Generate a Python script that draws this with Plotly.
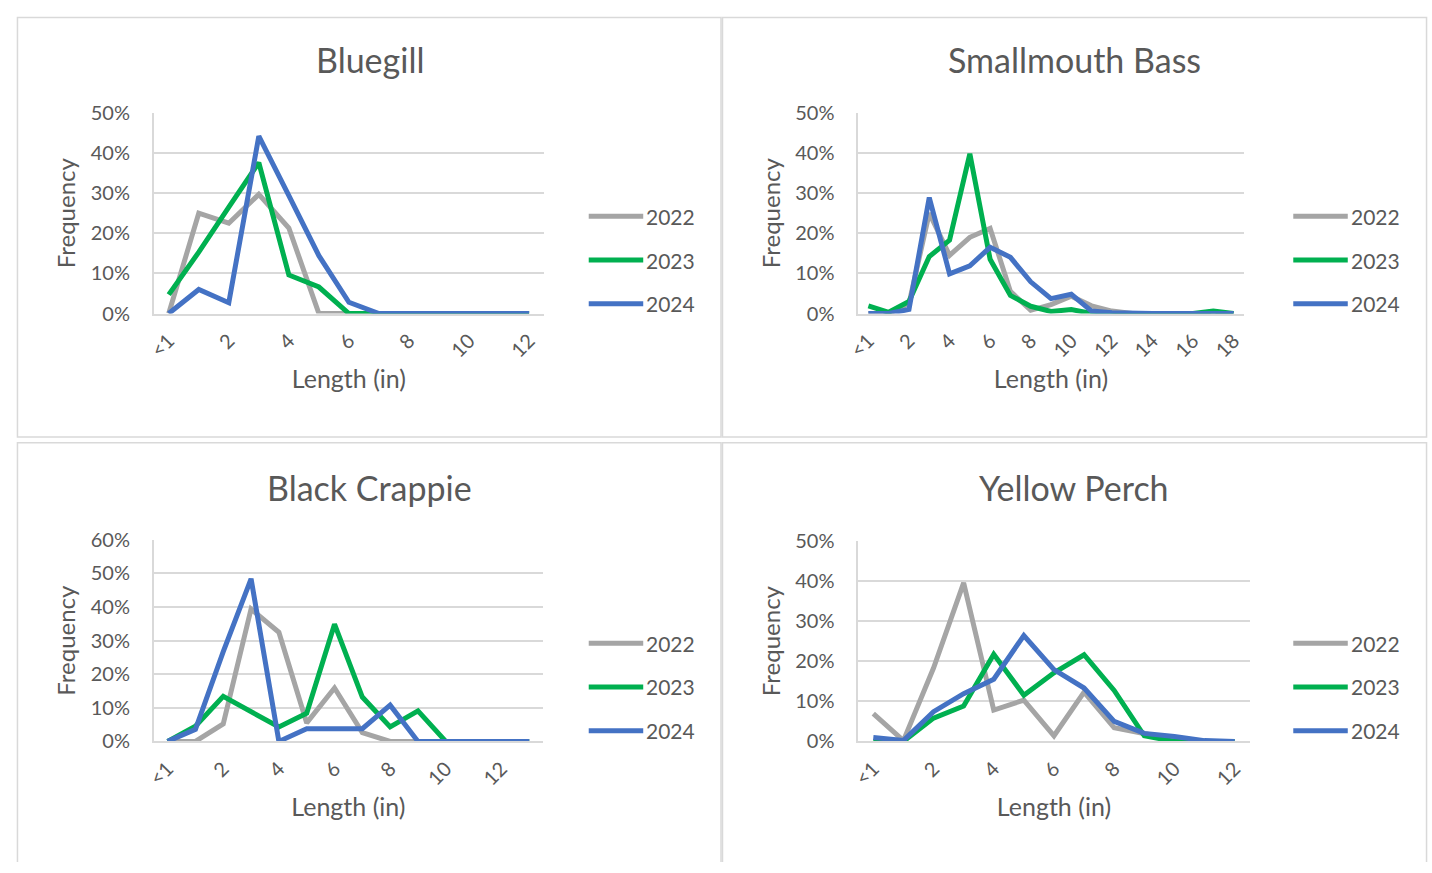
import plotly.graph_objects as go

# reference page geometry, in pixels of the 1432x873 page
W, H = 1432, 873

years = ["2022", "2023", "2024"]
colors = ["#A5A5A5", "#00B050", "#4472C4"]

# Bluegill
bg_cats = ["<1"] + [str(i) for i in range(1, 13)]
bg_2022 = [0, 25, 22.5, 29.7, 21.3, 0, 0, 0, 0, 0, 0, 0, 0]
bg_2023 = [4.7, 15.3, 26.5, 37.6, 9.6, 6.6, 0, 0, 0, 0, 0, 0, 0]
bg_2024 = [0, 6, 2.7, 44.2, 29.4, 14.4, 2.8, 0, 0, 0, 0, 0, 0]

# Smallmouth Bass
sm_cats = ["<1"] + [str(i) for i in range(1, 19)]
sm_2022 = [0, 0, 2.5, 25, 14.5, 19, 21.2, 5.5, 0.8, 2.2, 4.3, 1.9, 0.6, 0, 0, 0, 0, 0, 0]
sm_2023 = [1.9, 0.3, 3, 14.2, 18.3, 39.8, 13.5, 4.5, 1.8, 0.5, 1, 0, 0, 0, 0, 0, 0, 0.6, 0]
sm_2024 = [0, 0, 1, 28.9, 9.9, 11.9, 16.5, 14, 7.9, 3.7, 4.8, 0.6, 0.2, 0, 0, 0, 0, 0, 0]

# Black Crappie
bc_cats = ["<1"] + [str(i) for i in range(1, 14)]
bc_2022 = [0, 0, 5.2, 39.4, 32.5, 5.5, 15.9, 2.6, 0, 0, 0, 0, 0, 0]
bc_2023 = [0, 4.5, 13.4, 8.9, 4.3, 8.4, 34.9, 13.2, 4.3, 9.1, 0, 0, 0, 0]
bc_2024 = [0, 3.6, 26.7, 48.4, 0, 3.8, 3.8, 3.8, 10.8, 0, 0, 0, 0, 0]

# Yellow Perch
yp_cats = ["<1"] + [str(i) for i in range(1, 13)]
yp_2022 = [6.9, 0.2, 18.3, 39.5, 7.8, 10.3, 1.4, 12.3, 3.4, 1.8, 0.5, 0, 0]
yp_2023 = [0, 0, 5.8, 8.8, 21.7, 11.5, 17.1, 21.6, 12.7, 1.4, 0, 0, 0]
yp_2024 = [1, 0.2, 7.4, 11.9, 15.5, 26.4, 17.9, 13.3, 5, 2, 1.2, 0.2, 0]

titles = ["Bluegill", "Smallmouth Bass", "Black Crappie", "Yellow Perch"]
y_max = [50, 50, 60, 50]

panels = [
    (bg_cats, [bg_2022, bg_2023, bg_2024]),
    (sm_cats, [sm_2022, sm_2023, sm_2024]),
    (bc_cats, [bc_2022, bc_2023, bc_2024]),
    (yp_cats, [yp_2022, yp_2023, yp_2024]),
]

plot_boxes = [  # left, right, top, bottom
    (142, 536, 102.7, 309),
    (853, 1242, 102.7, 309),
    (142, 535, 541.7, 749),
    (853, 1248, 542.7, 749),
]
frames = [(4.5, 714.5, 4.5, 436), (716, 1426.5, 4.5, 436),
          (4.5, 714.5, 442, None), (716, 1426.5, 442, None)]
title_pos = [(360, 48), (1071, 48), (360, 488), (1071, 488)]
legend_pos = [(581, 209), (1292, 209), (581, 648), (1292, 648)]
legend_gap = 45
legend_len = 55

FONT = "Lato"
TXT = "#595959"
GRID = "#D9D9D9"


def px(x):
    return x / W


def py(y):
    return 1 - y / H


fig = go.Figure()
shapes = []
annotations = []

for k, (cats, series) in enumerate(panels):
    ax = "" if k == 0 else str(k + 1)
    for name, vals, col in zip(years, series, colors):
        fig.add_trace(go.Scatter(
            x=cats, y=vals, name=name, mode="lines",
            line=dict(color=col, width=5),
            xaxis="x" + ax, yaxis="y" + ax, showlegend=False,
        ))
    l, r, t, b = plot_boxes[k]
    fig.layout["xaxis" + ax] = dict(
        domain=[px(l), px(r)], anchor="y" + ax, type="category",
        categoryorder="array", categoryarray=cats,
        range=[-0.5, len(cats) - 0.5],
        tickmode="array", tickvals=cats[::2], ticktext=cats[::2],
        tickangle=-45, tickfont=dict(size=20, color=TXT, family=FONT),
        ticklabelstandoff=6,
        showgrid=False, showline=True, linecolor=GRID, linewidth=1.5,
        ticks="", zeroline=False,
        title=dict(text="Length (in)", font=dict(size=25, color=TXT, family=FONT), standoff=10),
    )
    fig.layout["yaxis" + ax] = dict(
        domain=[py(b), py(t)], anchor="x" + ax,
        range=[0, y_max[k]], dtick=10, ticksuffix="%",
        tickfont=dict(size=20, color=TXT, family=FONT),
        ticklabelstandoff=18,
        showgrid=True, gridcolor=GRID, gridwidth=1.5,
        zeroline=True, zerolinecolor=GRID, zerolinewidth=1.5,
        showline=True, linecolor=GRID, linewidth=1.5, ticks="",
        title=dict(text="Frequency", font=dict(size=24, color=TXT, family=FONT), standoff=8),
    )
    fx0, fx1, fy0, fy1 = frames[k]
    if fy1 is None:
        path = "M{a},{b} L{a},{c} L{d},{c} L{d},{b}".format(
            a=px(fx0), b=0, c=py(fy0), d=px(fx1))
    else:
        path = "M{a},{b} L{a},{c} L{d},{c} L{d},{b} Z".format(
            a=px(fx0), b=py(fy1), c=py(fy0), d=px(fx1))
    shapes.append(dict(type="path", xref="paper", yref="paper", path=path,
                       line=dict(color=GRID, width=1.5), layer="below"))
    tx, ty = title_pos[k]
    annotations.append(dict(text=titles[k], xref="paper", yref="paper",
                            x=px(tx), y=py(ty), showarrow=False,
                            xanchor="center", yanchor="middle",
                            font=dict(size=34, color=TXT, family=FONT)))
    lx, ly = legend_pos[k]
    for i, (name, col) in enumerate(zip(years, colors)):
        yy = ly + i * legend_gap
        shapes.append(dict(type="line", xref="paper", yref="paper",
                           x0=px(lx), x1=px(lx + legend_len), y0=py(yy), y1=py(yy),
                           line=dict(color=col, width=5)))
        annotations.append(dict(text=name, xref="paper", yref="paper",
                                x=px(lx + legend_len + 1), y=py(yy), showarrow=False,
                                xanchor="left", yanchor="middle",
                                font=dict(size=21, color=TXT, family=FONT)))

fig.update_layout(
    autosize=True, margin=dict(l=0, r=0, t=0, b=0),
    paper_bgcolor="white", plot_bgcolor="white",
    font=dict(family=FONT, color=TXT),
    shapes=shapes, annotations=annotations,
)

fig.write_html(
    "out.html",
    config={"displayModeBar": False, "responsive": True},
    default_width="100vw", default_height="100vh",
    post_script=(
        "document.documentElement.style.margin='0';document.body.style.margin='0';"
        "document.documentElement.style.overflow='hidden';document.body.style.overflow='hidden';"
        "Plotly.Plots.resize(document.getElementById('{plot_id}'));"
    ),
)
